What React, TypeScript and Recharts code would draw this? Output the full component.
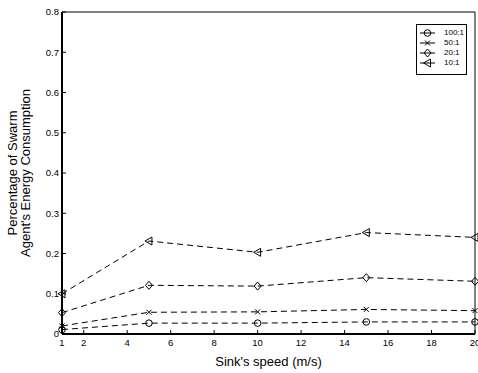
import { Line, LineChart, XAxis, YAxis } from "recharts"

const speeds = [1, 5, 10, 15, 20]
const ratio100 = [0.011, 0.027, 0.027, 0.03, 0.03]
const ratio50 = [0.02, 0.054, 0.055, 0.061, 0.058]
const ratio20 = [0.053, 0.121, 0.119, 0.14, 0.131]
const ratio10 = [0.1, 0.231, 0.203, 0.252, 0.24]

const xTicks = [1, 2, 4, 6, 8, 10, 12, 14, 16, 18, 20]
const yTicks = [0, 0.1, 0.2, 0.3, 0.4, 0.5, 0.6, 0.7, 0.8]

const seriesNames = ["100:1", "50:1", "20:1", "10:1"]
const seriesKeys = ["r100", "r50", "r20", "r10"]
const markerKinds = ["circle", "cross", "diamond", "triangle"]

const data = speeds.map((s, i) => ({
    speed: s,
    r100: ratio100[i],
    r50: ratio50[i],
    r20: ratio20[i],
    r10: ratio10[i],
}))

const FONT = "'Liberation Sans', Arial, sans-serif"
const INK = "#000"

function Marker({ kind, cx, cy }: { kind: string; cx: number; cy: number }) {
    if (cx == null || cy == null) return null
    const p = { fill: "none", stroke: INK, strokeWidth: 1 }
    if (kind === "circle") return <circle cx={cx} cy={cy} r={3.3} {...p} />
    if (kind === "cross")
        return (
            <path
                d={`M${cx - 2.5},${cy - 2.5}L${cx + 2.5},${cy + 2.5}M${cx - 2.5},${cy + 2.5}L${cx + 2.5},${cy - 2.5}`}
                {...p}
            />
        )
    if (kind === "diamond")
        return <path d={`M${cx},${cy - 4}L${cx + 3.5},${cy}L${cx},${cy + 4}L${cx - 3.5},${cy}Z`} {...p} />
    return <path d={`M${cx - 4},${cy}L${cx + 3},${cy - 4}L${cx + 3},${cy + 4}Z`} {...p} />
}

function YLabel({ viewBox }: any) {
    const cy = viewBox.y + viewBox.height / 2
    return (
        <g fontFamily={FONT} fontSize={13} fill={INK}>
            <text x={16.7} y={cy} textAnchor="middle" transform={`rotate(-90, 16.7, ${cy})`}>
                Percentage of Swarm
            </text>
            <text x={30.3} y={cy} textAnchor="middle" transform={`rotate(-90, 30.3, ${cy})`}>
                Agent's Energy Consumption
            </text>
        </g>
    )
}

export default function App() {
    const tickStyle = { fontSize: 9.5, fill: INK, fontFamily: FONT }
    const thickAxis = { stroke: INK, strokeWidth: 2 }
    const thinTick = { stroke: INK, strokeWidth: 1 }
    return (
        <div style={{ position: "absolute", left: 0, top: 0, width: 478, height: 373, background: "#fff" }}>
            <LineChart width={478} height={373} data={data} margin={{ top: 11, right: 0, bottom: 0, left: 0 }}>
                <XAxis
                    xAxisId="t"
                    orientation="top"
                    dataKey="speed"
                    type="number"
                    domain={[1, 20]}
                    ticks={xTicks}
                    interval={0}
                    height={1}
                    tickSize={-4}
                    tick={false}
                    stroke={INK}
                />
                <YAxis
                    yAxisId="r"
                    orientation="right"
                    type="number"
                    domain={[0, 0.8]}
                    ticks={yTicks}
                    interval={0}
                    width={3}
                    tickSize={-4}
                    tick={false}
                    stroke={INK}
                />
                {seriesKeys.map((k, i) => (
                    <Line
                        key={k}
                        xAxisId="b"
                        yAxisId="l"
                        dataKey={k}
                        name={seriesNames[i]}
                        stroke={INK}
                        strokeWidth={1}
                        strokeDasharray="6 4"
                        type="linear"
                        isAnimationActive={false}
                        dot={(props: any) => <Marker key={`${k}-${props.index}`} kind={markerKinds[i]} cx={props.cx} cy={props.cy} />}
                        activeDot={false}
                    />
                ))}
                <XAxis
                    xAxisId="b"
                    dataKey="speed"
                    type="number"
                    domain={[1, 20]}
                    ticks={xTicks}
                    interval={0}
                    height={39}
                    tickSize={-4}
                    tickMargin={9}
                    tick={tickStyle}
                    axisLine={thickAxis}
                    tickLine={thinTick}
                    stroke={INK}
                    label={{ value: "Sink's speed (m/s)", position: "insideBottom", offset: 7, fontSize: 13, fill: INK, fontFamily: FONT }}
                />
                <YAxis
                    yAxisId="l"
                    type="number"
                    domain={[0, 0.8]}
                    ticks={yTicks}
                    interval={0}
                    width={62}
                    tickSize={-4}
                    tickMargin={7}
                    tick={tickStyle}
                    axisLine={thickAxis}
                    tickLine={thinTick}
                    tickFormatter={(v: number) => (v === 0 ? "0" : v.toFixed(1))}
                    stroke={INK}
                    label={<YLabel />}
                />
            </LineChart>
            <div
                style={{
                    position: "absolute",
                    left: 416,
                    top: 24,
                    width: 51,
                    height: 51,
                    border: `1px solid ${INK}`,
                    boxSizing: "border-box",
                    background: "#fff",
                    paddingTop: 3,
                    fontFamily: FONT,
                    fontSize: 8,
                }}
            >
                {seriesNames.map((n, i) => (
                    <div key={n} style={{ display: "flex", alignItems: "center", height: 10 }}>
                        <svg width={24} height={10} style={{ marginLeft: 2 }}>
                            <line x1={1} x2={16} y1={5} y2={5} stroke={INK} strokeWidth={1} />
                            <Marker kind={markerKinds[i]} cx={8.5} cy={5} />
                        </svg>
                        <span style={{ marginLeft: 1, lineHeight: "10px" }}>{n}</span>
                    </div>
                ))}
            </div>
        </div>
    )
}
